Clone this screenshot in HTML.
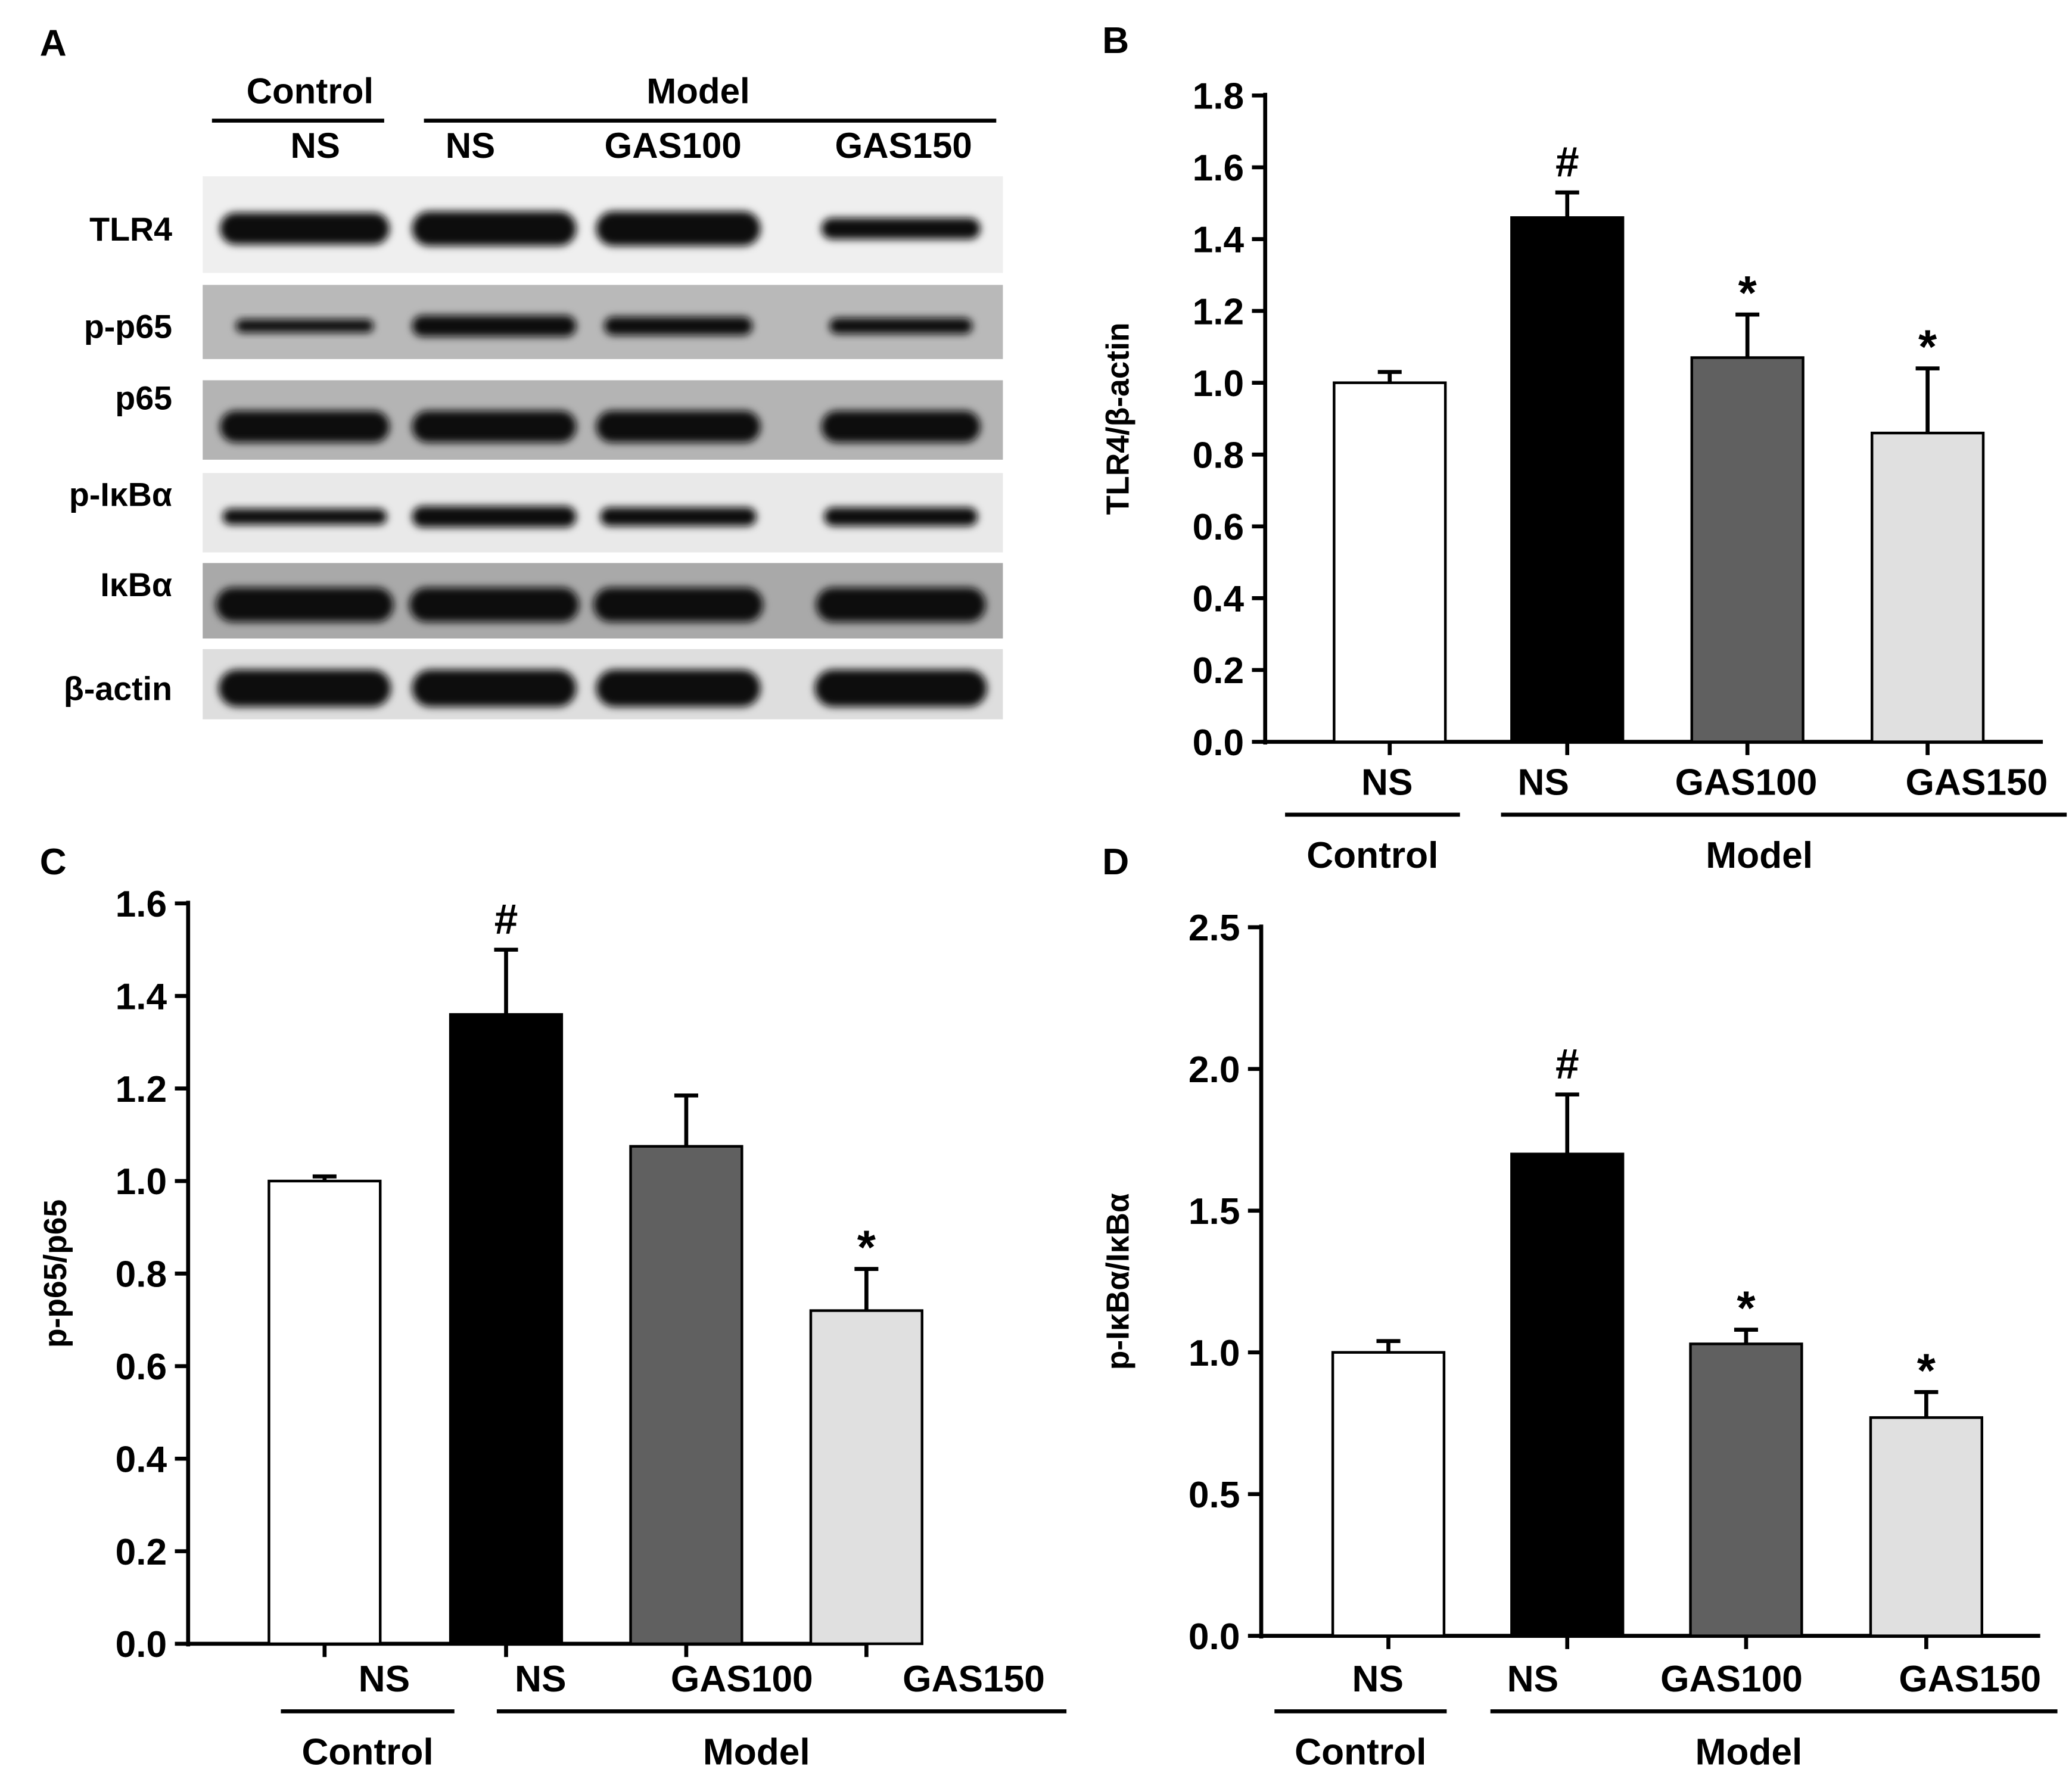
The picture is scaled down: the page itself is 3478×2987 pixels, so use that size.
<!DOCTYPE html>
<html><head><meta charset="utf-8"><style>
html,body{margin:0;padding:0;background:#fff}
svg{display:block}
text{font-family:"Liberation Sans",Arial,sans-serif;font-weight:bold;fill:#000}
</style></head><body>
<svg id="fig" width="3478" height="2987" viewBox="0 0 1564 1343" xmlns="http://www.w3.org/2000/svg">
<defs><filter id="blur" x="-20%" y="-50%" width="140%" height="200%"><feGaussianBlur stdDeviation="3"/></filter></defs>
<g id="panelA"></g>
<g id="charts"></g>
</svg>
<script>
const NS='http://www.w3.org/2000/svg';
const svg=document.getElementById('fig');
function mk(tag,attrs,parent,txt){const e=document.createElementNS(NS,tag);for(const k in attrs)e.setAttribute(k,attrs[k]);if(txt!==undefined)e.textContent=txt;(parent||svg).appendChild(e);return e;}

const blotNames=['TLR4','p-p65','p65','p-IκBα','IκBα','β-actin'];
const blotBg=['#efefef','#b9b9b9','#b4b4b4','#e9e9e9','#a9a9a9','#dedede'];
const blotRowsY=[[133,206],[215,271],[287,347],[357,417],[425,482],[490,543]];
const bandThick=[[24,26,26,16],[10,16,14,12],[24,24,24,24],[12,16,14,14],[26,26,26,26],[28,28,28,28]];
const laneX=[230,373,512,680];
const bandW=[[128,124,124,120],[104,124,112,108],[128,124,124,120],[124,124,118,116],[134,128,128,128],[130,124,124,130]];
const A=document.getElementById('panelA');
let t=mk('text',{x:30,y:42,'font-size':28},A,'A');
t=mk('text',{x:234,y:78,'font-size':27,'text-anchor':'middle'},A,'Control');
t=mk('text',{x:527,y:78,'font-size':27,'text-anchor':'middle'},A,'Model');
mk('line',{x1:160,x2:290,y1:91,y2:91,stroke:'#000','stroke-width':3},A);
mk('line',{x1:320,x2:752,y1:91,y2:91,stroke:'#000','stroke-width':3},A);
const laneLabels=['NS','NS','GAS100','GAS150'];
const laneLabelX=[238,355,508,682];
laneLabels.forEach((l,i)=>{const e=mk('text',{x:laneLabelX[i],y:119,'font-size':27,'text-anchor':'middle'},A,l);});
blotNames.forEach((n,r)=>{
  const [y0,y1]=blotRowsY[r];
  const g=mk('g',{},A);
  mk('rect',{x:153,y:y0,width:604,height:y1-y0,fill:blotBg[r]},g);
  const cy=(r===2)?(y0+y1)/2+5:(y0+y1)/2+3;
  laneX.forEach((lx,i)=>{
    const w=bandW[r][i],h=bandThick[r][i];
    mk('rect',{x:lx-w/2,y:cy-h/2,width:w,height:h,rx:h/2,fill:'#0a0a0a',filter:'url(#blur)'},g);
  });
  const lab=mk('text',{x:130,y:(r===2?y0+22:(r===3||r===4)?y0+25:cy+9),'font-size':25,'text-anchor':'end'},g,n);
  
});

const groups=['NS','NS','GAS100','GAS150'];
const fills=['#ffffff','#000000','#606060','#e0e0e0'];
const valsB=[1.0,1.46,1.07,0.86];
const errB=[0.03,0.07,0.12,0.18];
const sigB=['','#','*','*'];
const valsC=[1.0,1.36,1.075,0.72];
const errC=[0.01,0.14,0.11,0.09];
const sigC=['','#','','*'];
const valsD=[1.0,1.70,1.03,0.77];
const errD=[0.04,0.21,0.05,0.09];
const sigD=['','#','*','*'];
const ticksB=['0.0','0.2','0.4','0.6','0.8','1.0','1.2','1.4','1.6','1.8'];
const ticksC=['0.0','0.2','0.4','0.6','0.8','1.0','1.2','1.4','1.6'];
const ticksD=['0.0','0.5','1.0','1.5','2.0','2.5'];

function chart(cfg){
  const g=mk('g',{},document.getElementById('charts'));
  
  const ymax=parseFloat(cfg.ticks[cfg.ticks.length-1]);
  const y=v=>cfg.y0-(v/ymax)*(cfg.y0-cfg.ytop);
  const pl=mk('text',{x:cfg.lx,y:cfg.ly,'font-size':28},g,cfg.letter);
  
  const ya=mk('line',{x1:cfg.ax,x2:cfg.ax,y1:cfg.ytop-2,y2:cfg.y0+2,stroke:'#000','stroke-width':3},g);
  
  const xa=mk('line',{x1:cfg.ax,x2:cfg.xend,y1:cfg.y0,y2:cfg.y0,stroke:'#000','stroke-width':3},g);
  
  cfg.ticks.forEach(tk=>{
    const v=parseFloat(tk),yy=y(v);
    mk('line',{x1:cfg.ax-10,x2:cfg.ax,y1:yy,y2:yy,stroke:'#000','stroke-width':3},g);
    const tl=mk('text',{x:cfg.ax-16,y:yy+10,'font-size':28,'text-anchor':'end'},g,tk);
    
  });
  const yt=mk('text',{x:0,y:0,'font-size':24,'text-anchor':'middle',transform:`translate(${cfg.ytx},${(cfg.y0+cfg.ytop)/2}) rotate(-90)`},g,cfg.ytitle);
  
  cfg.vals.forEach((v,i)=>{
    const cx=cfg.bx[i],w=84;
    const top=y(v),et=y(v+cfg.err[i]);
    const eb=mk('line',{x1:cx,x2:cx,y1:et,y2:top,stroke:'#000','stroke-width':3},g);
    
    mk('line',{x1:cx-9,x2:cx+9,y1:et,y2:et,stroke:'#000','stroke-width':3},g);
    const b=mk('rect',{x:cx-w/2,y:top,width:w,height:cfg.y0-top,fill:cfg.fills[i],stroke:'#000','stroke-width':2},g);
    
    mk('line',{x1:cx,x2:cx,y1:cfg.y0,y2:cfg.y0+10,stroke:'#000','stroke-width':3},g);
    if(cfg.sig[i]){const s=mk('text',{x:cx,y:et-(cfg.sig[i]==='#'?12:4),'font-size':cfg.sig[i]==='#'?32:36,'text-anchor':'middle'},g,cfg.sig[i]);}
    const xl=mk('text',{x:cfg.labx[i],y:cfg.laby,'font-size':28,'text-anchor':'middle'},g,groups[i]);
    
  });
  mk('line',{x1:cfg.cl[0],x2:cfg.cl[1],y1:cfg.laby+15,y2:cfg.laby+15,stroke:'#000','stroke-width':3},g);
  mk('line',{x1:cfg.ml[0],x2:cfg.ml[1],y1:cfg.laby+15,y2:cfg.laby+15,stroke:'#000','stroke-width':3},g);
  const c=mk('text',{x:(cfg.cl[0]+cfg.cl[1])/2,y:cfg.laby+55,'font-size':28,'text-anchor':'middle'},g,'Control');
  
  const m=mk('text',{x:cfg.mx,y:cfg.laby+55,'font-size':28,'text-anchor':'middle'},g,'Model');
  
}
chart({name:'chart-b-tlr4',letter:'B',lx:832,ly:40,ax:955,xend:1542,y0:560,ytop:72,ticks:ticksB,vals:valsB,err:errB,sig:sigB,fills:fills,
  bx:[1049,1183,1319,1455],labx:[1047,1165,1318,1492],laby:600,cl:[970,1102],ml:[1133,1560],mx:1328,ytitle:'TLR4/β-actin',ytx:852});
chart({name:'chart-c-pp65',letter:'C',lx:30,ly:660,ax:142,xend:655,y0:1241,ytop:682,ticks:ticksC,vals:valsC,err:errC,sig:sigC,fills:fills,
  bx:[245,382,518,654],labx:[290,408,560,735],laby:1277,cl:[212,343],ml:[375,805],mx:571,ytitle:'p-p65/p65',ytx:50});
chart({name:'chart-d-pikba',letter:'D',lx:832,ly:660,ax:952,xend:1540,y0:1235,ytop:700,ticks:ticksD,vals:valsD,err:errD,sig:sigD,fills:fills,
  bx:[1048,1183,1318,1454],labx:[1040,1157,1307,1487],laby:1277,cl:[962,1092],ml:[1125,1553],mx:1320,ytitle:'p-IκBα/IκBα',ytx:852});
</script>
</body></html>
